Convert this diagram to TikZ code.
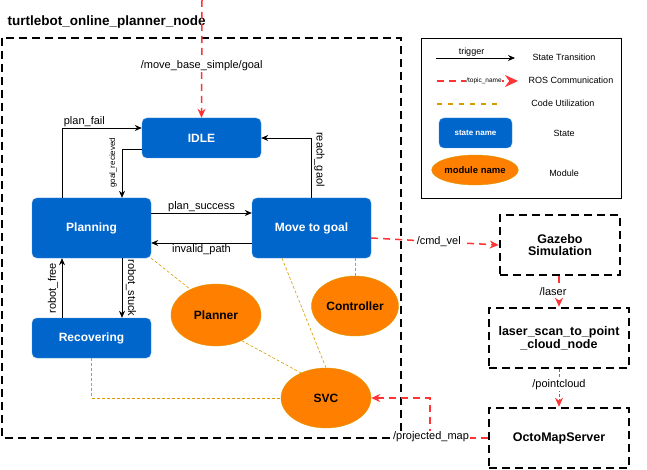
\documentclass[tikz,border=0pt]{standalone}
\usepackage{fontspec}
\setmainfont{Liberation Sans}
\usepackage{tikz}
\usetikzlibrary{arrows.meta,shapes.geometric}
\definecolor{stateblue}{HTML}{0066CC}
\definecolor{modorange}{HTML}{FF8000}
\definecolor{codeyellow}{HTML}{D79B00}
\definecolor{rosred}{HTML}{FF3333}
\newcommand{\fs}[1]{\fontsize{#1}{#1}\selectfont}

\begin{document}
\begin{tikzpicture}[x=1pt,y=-1pt,
    state/.style={rectangle,rounded corners=5pt,fill=stateblue,draw=stateblue!70!white,
      text=white,font=\bfseries\fs{12},minimum width=119pt,minimum height=40pt},
    module/.style={ellipse,fill=modorange,draw=codeyellow,inner sep=0pt,
      font=\bfseries\fs{12},minimum width=90pt,minimum height=62pt},
    extbox/.style={rectangle,draw,line width=2.6pt,dash pattern=on 8pt off 5pt,
      font=\bfseries\fs{12.5},align=center,minimum height=60pt},
    trans/.style={-{Stealth[length=7pt,width=6pt]},line width=0.8pt},
    ros/.style={-{Stealth[length=9pt,width=8pt]},draw=rosred,line width=1.5pt,
      dash pattern=on 7pt off 5pt},
    code/.style={draw=codeyellow,line width=0.6pt,dash pattern=on 3pt off 2pt},
    lbl/.style={font=\fs{11},inner sep=1pt},
    legtext/.style={font=\fs{9}}]
  \useasboundingbox (0,0) rectangle (647,470);

  % node frame
  \node[font=\bfseries\fs{13.5},anchor=west] (title) at (4,22) {turtlebot\_online\_planner\_node};
  \draw[line width=2.6pt,dash pattern=on 8pt off 5pt] (2,38) rectangle (401,438);

  % states
  \node[state] (idle) at (201.5,138) {IDLE};
  \node[state,minimum height=60pt] (planning) at (91.5,228) {Planning};
  \node[state,minimum height=60pt] (move) at (311.5,228) {Move to goal};
  \node[state] (recovering) at (91.5,338) {Recovering};

  % modules
  \node[module] (planner) at (216,315) {Planner};
  \node[module,minimum width=87pt,minimum height=60pt] (controller) at (355,306) {Controller};
  \node[module,minimum height=60pt] (svc) at (326,398) {SVC};

  % other nodes
  \node[extbox,minimum width=120pt] (gazebo) at (560,245) {Gazebo\\Simulation};
  \node[extbox,minimum width=140pt] (scan2pc) at (559,338) {laser\_scan\_to\_point\\\_cloud\_node};
  \node[extbox,minimum width=140pt] (octomap) at (559,438) {OctoMapServer};

  % transitions
  \draw[trans] ([xshift=-29.5pt]planning.north) |- ([yshift=10pt]idle.west)
    node[lbl,pos=0.64,above] {plan\_fail};
  \draw[trans] ([yshift=-11pt]idle.west) -| ([xshift=30.5pt]planning.north)
    node[pos=0.64,xshift=-9pt,rotate=90,font=\fs{8}] {goal\_recieved};
  \draw[trans] ([yshift=15pt]planning.east) -- ([yshift=15pt]move.west)
    node[lbl,midway,above] {plan\_success};
  \draw[trans] ([yshift=-15pt]move.west) -- ([yshift=-15pt]planning.east)
    node[lbl,midway,below] {invalid\_path};
  \draw[trans] (move.north) |- (idle.east)
    node[lbl,pos=0.32,xshift=8pt,rotate=-90] {reach\_gaol};
  \draw[trans] ([xshift=-29.5pt]recovering.north) -- ([xshift=-29.5pt]planning.south)
    node[lbl,midway,xshift=-9pt,rotate=90] {robot\_free};
  \draw[trans] ([xshift=30.5pt]planning.south) -- ([xshift=30.5pt]recovering.north)
    node[lbl,midway,xshift=9pt,rotate=-90] {robot\_stuck};

  % code utilization
  \draw[code] (planning.south east) -- (planner.135);
  \draw[code] ([xshift=-29.5pt]move.south) -- (svc.north);
  \draw[code] (controller.north |- move.south) -- (controller.north);
  \draw[code] (planner.-45) -- (svc.135);
  \draw[code] (recovering.south) |- (svc.west);

  % ros topics
  \coordinate (goalsrc) at (202,0);
  \draw[ros] (goalsrc) -- (idle.north)
    node[lbl,pos=0.56,fill=white] {/move\_base\_simple/goal};
  \draw[ros] ([yshift=-10pt]move.east) -- (gazebo.west)
    node[lbl,pos=0.53,fill=white] {/cmd\_vel};
  \draw[ros] (gazebo.south -| scan2pc.north) -- (scan2pc.north)
    node[lbl,midway,fill=white,xshift=-6pt] {/laser};
  \draw[ros,line width=0.7pt,dash pattern=on 3pt off 2pt] (scan2pc.south) -- (octomap.north)
    node[lbl,pos=0.42,fill=white] {/pointcloud};
  \coordinate (mapbend) at (430,398);
  \draw[ros] (octomap.west) -| (mapbend) -- (svc.east);
  \node[lbl,fill=white] (maplbl) at (431,437) {/projected\_map};

  % legend
  \draw[line width=0.8pt] (421,38) rectangle (621,198);
  \coordinate (trgA) at (436,58);
  \coordinate (trgB) at (515,58);
  \draw[trans] (trgA) -- (trgB) node[midway,above,inner sep=1pt,legtext,xshift=-4pt] {trigger};
  \coordinate (rosA) at (437,81);
  \coordinate (rosB) at (518,81);
  \draw[ros,-{Stealth[length=13pt,width=12pt]}] (rosA) -- (rosB)
    node[pos=0.58,fill=white,inner sep=0.5pt,font=\fs{6.5}] {/topic\_name};
  \coordinate (codeA) at (437,104);
  \coordinate (codeB) at (501,104);
  \draw[code,line width=1.3pt,dash pattern=on 5pt off 6pt] (codeA) -- (codeB);
  \node[state,minimum width=73pt,minimum height=30pt,font=\bfseries\fs{8}] (legstate) at (475.5,133) {state name};
  \node[module,minimum width=64pt,minimum height=30pt,font=\bfseries\fs{9.5}] (legmodule) at (475,170) {module name};
  \node[legtext] (legtrans) at (564,57) {State Transition};
  \node[legtext] (legros) at (571,80) {ROS Communication};
  \node[legtext] (legcode) at (563,103) {Code Utilization};
  \node[legtext] (legst) at (564,133) {State};
  \node[legtext] (legmod) at (564,173) {Module};
\end{tikzpicture}
\end{document}
